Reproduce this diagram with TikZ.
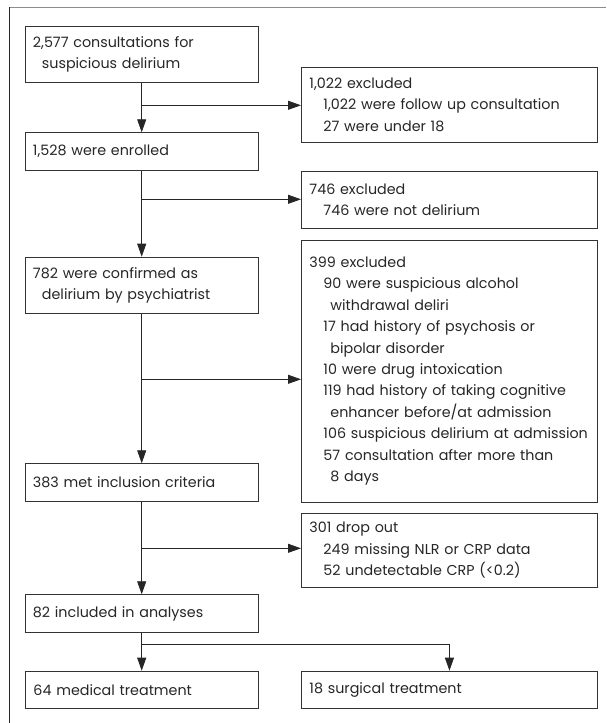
\documentclass[tikz,border=0pt]{standalone}
\usepackage{fontspec}
\setmainfont{Poppins}
\usetikzlibrary{arrows.meta}
\newcommand{\indA}{\hspace*{14pt}}
\newcommand{\indB}{\hspace*{21pt}}
\newcommand{\indL}{\hspace*{9pt}}

\begin{document}
\begin{tikzpicture}[x=1pt,y=-1pt,
		box/.style={draw=black!80,line width=0.9pt,anchor=north west,inner xsep=8pt,inner ysep=0pt,
			align=left,text=black!85,font=\fontsize{14.3}{21.4}\selectfont},
		lbox/.style={box,minimum width=233pt,text width=217pt},
		rbox/.style={box,minimum width=296pt,text width=280pt},
		arr/.style={-{Triangle[length=13pt,width=9pt]},line width=0.8pt,draw=black!85}]
	\useasboundingbox (0,0) rectangle (606,723);
	\draw[black!45,line width=1.6pt] (9.3,7.5) -- (606,7.5);
	\draw[black!85,line width=1pt] (9.3,7) -- (9.3,723);

	\node[lbox,minimum height=56.3pt] (consult) at (24.5,25.7) {2,577 consultations for\\ \indL suspicious delirium};
	\node[lbox,minimum height=37.7pt] (enrol) at (24.5,132.3) {1,528 were enrolled};
	\node[lbox,minimum height=56.6pt] (confirm) at (24.5,256.7) {782 were confirmed as\\ \indL delirium by psychiatrist};
	\node[lbox,minimum height=37.7pt] (criteria) at (24.5,463.3) {383 met inclusion criteria};
	\node[lbox,minimum height=37.4pt] (analys) at (24.5,594.3) {82 included in analyses};
	\node[lbox,minimum height=37.6pt] (medical) at (25,670.7) {64 medical treatment};

	\node[rbox,minimum height=75pt] (excl1) at (301,66.7) {1,022 excluded\\
		\indA 1,022 were follow up consultation\\
		\indA 27 were under 18};
	\node[rbox,minimum height=56.3pt] (excl2) at (301,171.2) {746 excluded\\
		\indA 746 were not delirium};
	\node[rbox,minimum height=262.2pt] (excl3) at (301,239.5) {399 excluded\\
		\indA 90 were suspicious alcohol\\
		\indB withdrawal deliri\\
		\indA 17 had history of psychosis or\\
		\indB bipolar disorder\\
		\indA 10 were drug intoxication\\
		\indA 119 had history of taking cognitive\\
		\indB enhancer before/at admission\\
		\indA \mbox{106 suspicious delirium at admission}\\
		\indA 57 consultation after more than\\
		\indB 8 days};
	\node[rbox,minimum height=74.2pt] (dropout) at (301,512.5) {301 drop out\\
		\indA 249 missing NLR or CRP data\\
		\indA 52 undetectable CRP (<0.2)};
	\node[rbox,minimum height=37.6pt] (surgical) at (301,670.7) {18 surgical treatment};

	\coordinate (j1) at (141.7,105.3);
	\coordinate (j2) at (141.7,199.3);
	\coordinate (j3) at (141.7,379.3);
	\coordinate (j4) at (141.7,548.3);
	\coordinate (j5) at (141.7,644.3);

	\draw[arr] (consult.south -| j1) -- (enrol.north -| j1);
	\draw[arr] (enrol.south -| j1) -- (confirm.north -| j1);
	\draw[arr] (confirm.south -| j1) -- (criteria.north -| j1);
	\draw[arr] (criteria.south -| j1) -- (analys.north -| j1);
	\draw[arr] (analys.south -| j1) -- (medical.north -| j1);
	\draw[arr] (j1) -- (j1 -| excl1.west);
	\draw[arr] (j2) -- (j2 -| excl2.west);
	\draw[arr] (j3) -- (j3 -| excl3.west);
	\draw[arr] (j4) -- (j4 -| dropout.west);
	\draw[arr] (j5) -| (surgical.north);
\end{tikzpicture}
\end{document}
